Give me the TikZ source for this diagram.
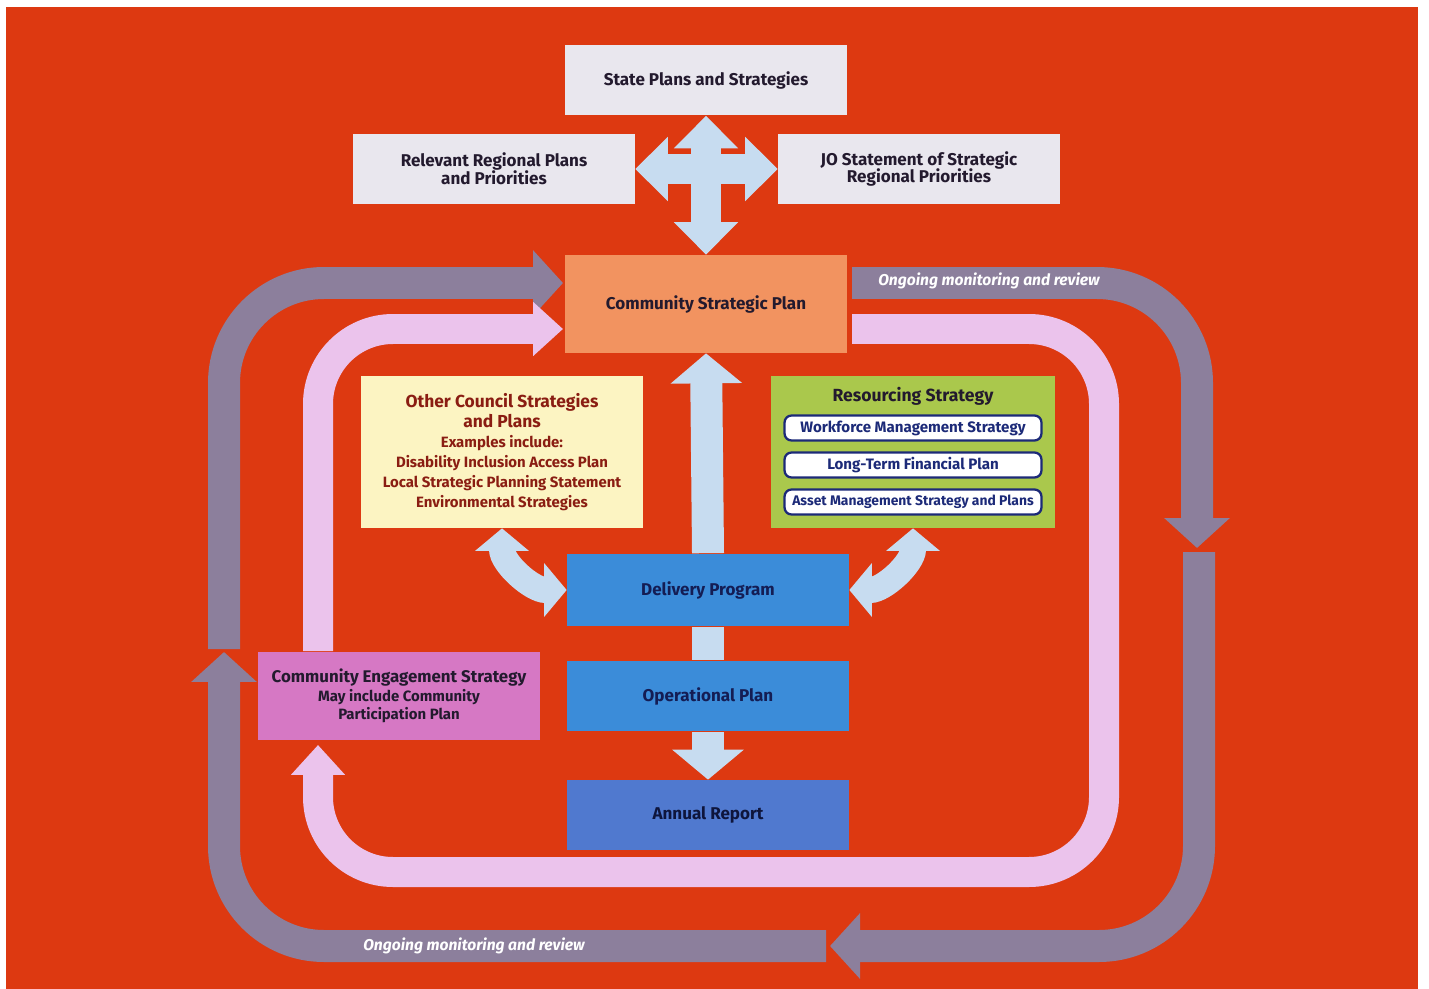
\documentclass[tikz,border=0pt]{standalone}
\usepackage{fontspec}
\setmainfont{Fira Sans}
\usepackage{tikz}
\usetikzlibrary{shapes,arrows.meta}
\definecolor{bgred}{RGB}{221,57,17}
\definecolor{plangray}{RGB}{233,231,238}
\definecolor{cspor}{RGB}{242,147,96}
\definecolor{othyel}{RGB}{252,244,194}
\definecolor{resgreen}{RGB}{170,200,76}
\definecolor{dpblue}{RGB}{59,140,217}
\definecolor{arblue}{RGB}{80,121,207}
\definecolor{cespink}{RGB}{214,120,196}
\definecolor{loopgray}{RGB}{140,127,156}
\definecolor{looppink}{RGB}{235,195,236}
\definecolor{arrblue}{RGB}{199,220,240}
\definecolor{navy}{RGB}{28,42,120}
\definecolor{textdark}{RGB}{35,26,46}
\definecolor{othred}{RGB}{138,29,18}
\newcommand{\othsmall}{\fontsize{8.5}{10.8}\selectfont}
\newcommand{\cessmall}{\fontsize{8.5}{10.5}\selectfont}

\begin{document}
\begin{tikzpicture}[x=0.02cm,y=-0.02cm]
    \tikzstyle{block} = [shape=rectangle, minimum width=5.64cm, minimum height=1.42cm, align=center, inner sep=2pt, text=textdark, font=\fontsize{9.7}{10.2}\selectfont\bfseries]
    \tikzstyle{plan} = [block, fill=plangray]
    \tikzstyle{resitem} = [draw=navy, line width=1.3pt, fill=white, rounded corners=4pt, minimum width=5.14cm, minimum height=0.5cm, inner sep=1pt, text=navy, font=\fontsize{8.6}{9}\selectfont\bfseries]
    \tikzstyle{grayband} = [draw=loopgray, line width=0.64cm, rounded corners=2cm, -{Triangle[width=1.28cm,length=0.6cm]}]
    \tikzstyle{pinkband} = [draw=looppink, line width=0.6cm, rounded corners=1.5cm, -{Triangle[width=1.05cm,length=0.6cm]}]
    \tikzstyle{bluearrow} = [draw=arrblue, line width=0.64cm, -{Triangle[width=1.4cm,length=0.6cm]}]
    \tikzstyle{crossarrow} = [draw=arrblue, line width=0.6cm, {Triangle[width=1.25cm,length=0.65cm]}-{Triangle[width=1.25cm,length=0.65cm]}]
    \tikzstyle{bendarrow} = [draw=arrblue, line width=0.52cm, {Triangle[width=1.05cm,length=0.45cm]}-{Triangle[width=1.05cm,length=0.45cm]}]
    \tikzstyle{review} = [text=white, font=\fontsize{8.9}{10}\selectfont\bfseries\itshape]
    \useasboundingbox (0,0) rectangle (1429,989);
    \fill[bgred] (6,7) rectangle (1418,989);
    %Creating Blocks
    \node[plan] at (706,80) (state) {State Plans and Strategies};
    \node[plan] at (494,169) (regional) {Relevant Regional Plans\\and Priorities};
    \node[plan] at (919,169) (jo) {JO Statement of Strategic\\Regional Priorities};
    \node[block, fill=cspor, minimum height=1.96cm] at (706,304) (csp) {Community Strategic Plan};
    \node[block, fill=othyel, minimum height=3.04cm, text=othred, font=\fontsize{9.9}{11.3}\selectfont\bfseries] at (502,452) (other) {Other Council Strategies\\and Plans\\\othsmall Examples include:\\\othsmall Disability Inclusion Access Plan\\\othsmall Local Strategic Planning Statement\\\othsmall Environmental Strategies};
    \node[block, fill=resgreen, minimum width=5.68cm, minimum height=3.04cm] at (913,452) (res) {};
    \node[block, anchor=center, font=\fontsize{10}{10}\selectfont\bfseries, minimum height=0pt, minimum width=0pt] at (913,396) (restitle) {Resourcing Strategy};
    \node[resitem] at (913,428) (workforce) {Workforce Management Strategy};
    \node[resitem] at (913,465) (ltfp) {Long-Term Financial Plan};
    \node[resitem, font=\fontsize{7.9}{9}\selectfont\bfseries] at (913,502) (asset) {Asset Management Strategy and Plans};
    \node[block, fill=dpblue, minimum height=1.46cm, text=navy!70!black] at (708,590) (dp) {Delivery Program};
    \node[block, fill=dpblue, text=navy!70!black] at (708,696) (op) {Operational Plan};
    \node[block, fill=arblue, minimum height=1.4cm, text=navy!50!black] at (708,815) (ar) {Annual Report};
    \node[block, fill=cespink, minimum height=1.76cm, font=\fontsize{9.6}{10.5}\selectfont\bfseries] at (399,696) (ces) {Community Engagement Strategy\\\cessmall May include Community\\\cessmall Participation Plan};
    %Loop points
    \coordinate (gout) at (852,283);
    \coordinate (gdown) at (1197,548);
    \coordinate (gright) at (1199,552);
    \coordinate (gleft) at (830,946);
    \coordinate (gbottom) at (826,946);
    \coordinate (gup) at (224,652);
    \coordinate (gtop) at (224,649);
    \coordinate (gin) at (563,283);
    \coordinate (pout) at (852,329);
    \coordinate (pup) at (318,745);
    \coordinate (pces) at (318,651);
    \coordinate (pin) at (563,329);
    %Conecting Blocks
    \begin{scope}
        \draw[grayband] (gout) -- (1197,283) -- (gdown);
        \draw[grayband] (gright) -- (1199,946) -- (gleft);
        \draw[grayband] (gbottom) -- (224,946) -- (gup);
        \draw[grayband] (gtop) -- (224,283) -- (gin);
        \draw[pinkband] (pout) -- (1104,329) -- (1104,872) -- (318,872) -- (pup);
        \draw[pinkband] (pces) -- (318,329) -- (pin);
        \draw[crossarrow] (state.south) -- (csp.north);
        \draw[crossarrow] (regional.east) -- (jo.west);
        \draw[bluearrow] (dp.north) -- (csp.south);
        \draw[draw=arrblue, line width=0.64cm] (dp.south) -- (op.north);
        \draw[bluearrow] (op.south) -- (ar.north);
        \draw[bendarrow] (other.south) to[out=-90,in=180] (dp.west);
        \draw[bendarrow] (dp.east) to[out=0,in=-90] (res.south);
    \end{scope}
    \node[review] at (989,281) (reviewtop) {Ongoing monitoring and review};
    \node[review] at (474,946) (reviewbottom) {Ongoing monitoring and review};
\end{tikzpicture}
\end{document}
